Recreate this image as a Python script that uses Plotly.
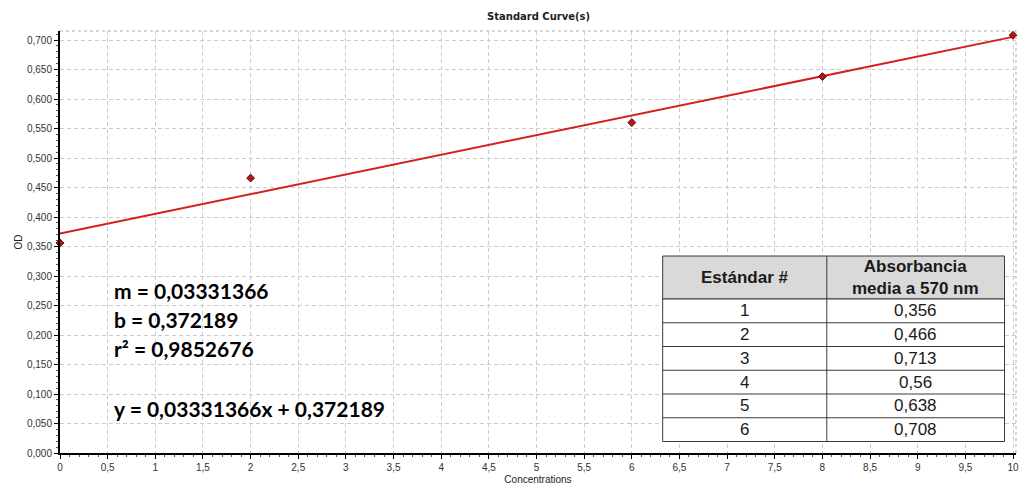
import plotly.graph_objects as go

# ---- data ----
concentrations = [0, 2, 6, 8, 10]
od_values = [0.356, 0.466, 0.56, 0.638, 0.708]
slope = 0.03331366
intercept = 0.372189
r_squared = 0.9852676
fit_x = [0, 10]
fit_y = [intercept + slope * v for v in fit_x]

table_header = ["Estándar #", "Absorbancia<br>media a 570 nm"]
standard_ids = ["1", "2", "3", "4", "5", "6"]
standard_abs = ["0,356", "0,466", "0,713", "0,56", "0,638", "0,708"]

W, H = 1022, 489
L, R, T, B = 59.5, 1016, 31, 453


def px(xp):
    return (xp - L) / (R - L)


def py(yp):
    return (B - yp) / (B - T)


fig = go.Figure()
fig.add_trace(go.Scatter(x=fit_x, y=fit_y, mode="lines",
                         line=dict(color="#d41f1f", width=2), showlegend=False))
fig.add_trace(go.Scatter(x=concentrations, y=od_values, mode="markers",
                         marker=dict(symbol="diamond", size=6, color="#b01818",
                                     line=dict(color="#6a0000", width=1)),
                         showlegend=False, cliponaxis=False))

shapes = []
annotations = []

# dotted top/right border
shapes.append(dict(type="line", xref="paper", yref="paper", x0=0, x1=1, y0=1, y1=1,
                   line=dict(color="#b0b0b0", width=1, dash="dot")))
shapes.append(dict(type="line", xref="paper", yref="paper", x0=1, x1=1, y0=0, y1=1,
                   line=dict(color="#b0b0b0", width=1, dash="dot")))

# equation annotations
fit_lines = [
    (291, f"m = {slope:.8f}".replace(".", ",")),
    (319, f"b = {intercept:.6f}".replace(".", ",")),
    (348, f"r² = {r_squared:.7f}".replace(".", ",")),
    (408, f"y = {slope:.8f}x + {intercept:.6f}".replace(".", ",")),
]
for yy, txt in fit_lines:
    annotations.append(dict(xref="paper", yref="paper", x=px(112), y=py(yy),
                            xanchor="left", yanchor="middle", showarrow=False,
                            text=f"<b>{txt}</b>",
                            font=dict(family="Lato", size=21, color="black")))

# table
tx0, tx1, tmid = 662.5, 1004.5, 826.7
ty0, thead = 256, 299
row_h = (441.5 - thead) / len(standard_ids)
ty1 = thead + row_h * len(standard_ids)
border = dict(color="#3a3a3a", width=1)
shapes.append(dict(type="rect", xref="paper", yref="paper", x0=px(tx0), x1=px(tx1),
                   y0=py(thead), y1=py(ty0), fillcolor="#d9d9d9", line=border, layer="above"))
shapes.append(dict(type="rect", xref="paper", yref="paper", x0=px(tx0), x1=px(tx1),
                   y0=py(ty1), y1=py(thead), fillcolor="white", line=border, layer="above"))
shapes.append(dict(type="line", xref="paper", yref="paper", x0=px(tmid), x1=px(tmid),
                   y0=py(ty1), y1=py(ty0), line=border, layer="above"))
for i in range(1, len(standard_ids)):
    yl = thead + i * row_h
    shapes.append(dict(type="line", xref="paper", yref="paper", x0=px(tx0), x1=px(tx1),
                       y0=py(yl), y1=py(yl), line=border, layer="above"))

cx1 = (tx0 + tmid) / 2
cx2 = (tmid + tx1) / 2
hy = (ty0 + thead) / 2
for cx, txt in zip([cx1, cx2], table_header):
    annotations.append(dict(xref="paper", yref="paper", x=px(cx), y=py(hy),
                            xanchor="center", yanchor="middle", showarrow=False,
                            text=f"<b>{txt}</b>",
                            font=dict(family="Liberation Sans", size=17, color="#1a1a1a")))
for i, (sid, val) in enumerate(zip(standard_ids, standard_abs)):
    yc = thead + (i + 0.5) * row_h
    for cx, txt in zip([cx1, cx2], [sid, val]):
        annotations.append(dict(xref="paper", yref="paper", x=px(cx), y=py(yc),
                                xanchor="center", yanchor="middle", showarrow=False,
                                text=txt,
                                font=dict(family="Liberation Sans", size=17, color="#1a1a1a")))

x_max = 10 + (R - 1013) / ((1013 - L) / 10)
y_max = 0.7 + (40 - T) / ((B - 40) / 0.7)

grid_style = dict(showgrid=True, gridcolor="#cccccc", griddash="4px,3px", gridwidth=1)

fig.update_layout(
    width=W, height=H,
    margin=dict(l=L, r=W - R, t=T, b=H - B),
    paper_bgcolor="white", plot_bgcolor="white",
    separators=",.",
    title=dict(text="<b>Standard Curve(s)</b>", x=0.527, xanchor="center",
               y=1 - 16 / H, yanchor="middle",
               font=dict(family="DejaVu Sans", size=10, color="#222")),
    font=dict(family="Liberation Sans", size=10, color="#333"),
    shapes=shapes, annotations=annotations,
    xaxis=dict(range=[0, x_max], tick0=0, dtick=0.5, tickformat="",
               showline=True, linecolor="black", linewidth=2,
               ticks="outside", ticklen=4, tickcolor="black",
               minor=dict(dtick=0.1, ticks="outside", ticklen=2, tickcolor="#555", showgrid=False),
               zeroline=False, automargin=False,
               title=dict(text="Concentrations", standoff=4,
                          font=dict(family="Liberation Sans", size=10, color="#222")),
               tickfont=dict(family="Liberation Sans", size=10, color="#333"),
               **grid_style),
    yaxis=dict(range=[0, y_max], tick0=0, dtick=0.05, tickformat=".3f",
               showline=True, linecolor="black", linewidth=2,
               ticks="outside", ticklen=4, tickcolor="black",
               minor=dict(dtick=0.01, ticks="outside", ticklen=2, tickcolor="#555", showgrid=False),
               zeroline=False, automargin=False,
               title=dict(text="OD", standoff=2,
                          font=dict(family="Liberation Sans", size=10, color="#222")),
               tickfont=dict(family="Liberation Sans", size=10, color="#333"),
               **grid_style),
)

fig.write_html("out.html", config={"displayModeBar": False},
               post_script="document.body.style.margin='0';document.body.style.overflow='hidden';")
